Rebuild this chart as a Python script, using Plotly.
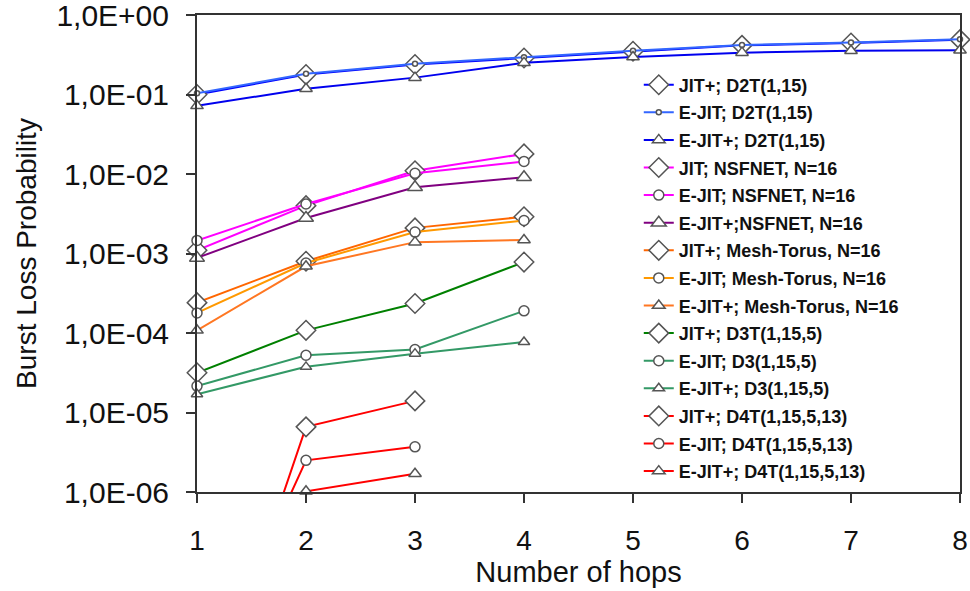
import plotly.graph_objects as go

# ---------------- data ----------------
hops = [1, 2, 3, 4, 5, 6, 7, 8]
hops4 = [1, 2, 3, 4]
hops3 = [1, 2, 3]

jitp_d2t = [0.100, 0.178, 0.238, 0.288, 0.350, 0.415, 0.445, 0.490]
ejit_d2t = [0.104, 0.182, 0.244, 0.295, 0.355, 0.420, 0.450, 0.495]
ejitp_d2t = [0.072, 0.118, 0.163, 0.250, 0.297, 0.336, 0.355, 0.360]

jit_ns = [0.0011, 0.0040, 0.0110, 0.0179]
ejit_ns = [0.00146, 0.0042, 0.0102, 0.0144]
ejitp_ns = [0.00088, 0.0028, 0.0068, 0.0091]

jitp_mt = [0.000241, 0.00080, 0.0021, 0.0029]
ejit_mt = [0.000179, 0.00076, 0.00186, 0.0026]
ejitp_mt = [0.000108, 0.00069, 0.00139, 0.00148]

jitp_d3 = [3.16e-5, 1.08e-4, 2.35e-4, 7.8e-4]
ejit_d3 = [2.15e-5, 5.25e-5, 6.2e-5, 1.9e-4]
ejitp_d3 = [1.7e-5, 3.75e-5, 5.5e-5, 7.7e-5]

jitp_d4 = [6e-10, 6.6e-6, 1.4e-5]
ejit_d4 = [2.5e-9, 2.5e-6, 3.7e-6]
ejitp_d4 = [2e-10, 1.02e-6, 1.7e-6]

y_tickvals = [1, 0.1, 0.01, 0.001, 0.0001, 0.00001, 0.000001]
y_ticktext = ["1,0E+00", "1,0E-01", "1,0E-02", "1,0E-03", "1,0E-04", "1,0E-05", "1,0E-06"]

series = [
    ("JIT+; D2T(1,15)", hops, jitp_d2t, "#0000FF", "diamond", 15),
    ("E-JIT; D2T(1,15)", hops, ejit_d2t, "#3366FF", "circle", 5),
    ("E-JIT+; D2T(1,15)", hops, ejitp_d2t, "#0000EE", "triangle-up", 11),
    ("JIT; NSFNET, N=16", hops4, jit_ns, "#FF00FF", "diamond", 15),
    ("E-JIT; NSFNET, N=16", hops4, ejit_ns, "#FF00FF", "circle", 10),
    ("E-JIT+;NSFNET, N=16", hops4, ejitp_ns, "#800080", "triangle-up", 13),
    ("JIT+; Mesh-Torus, N=16", hops4, jitp_mt, "#FF6600", "diamond", 15),
    ("E-JIT; Mesh-Torus, N=16", hops4, ejit_mt, "#FF9900", "circle", 10),
    ("E-JIT+; Mesh-Torus, N=16", hops4, ejitp_mt, "#FF7722", "triangle-up", 11),
    ("JIT+; D3T(1,15,5)", hops4, jitp_d3, "#008000", "diamond", 15),
    ("E-JIT; D3(1,15,5)", hops4, ejit_d3, "#339966", "circle", 10),
    ("E-JIT+; D3(1,15,5)", hops4, ejitp_d3, "#339966", "triangle-up", 10),
    ("JIT+; D4T(1,15,5,13)", hops3, jitp_d4, "#FF0000", "diamond", 15),
    ("E-JIT; D4T(1,15,5,13)", hops3, ejit_d4, "#FF0000", "circle", 10),
    ("E-JIT+; D4T(1,15,5,13)", hops3, ejitp_d4, "#FF0000", "triangle-up", 11),
]

fig = go.Figure()
for i, (name, xs, ys, col, sym, sz) in enumerate(series):
    fig.add_trace(go.Scatter(
        x=xs, y=ys, name=name, mode="lines+markers",
        line=dict(color=col, width=2),
        marker=dict(symbol=sym, size=sz, color="white",
                    line=dict(color="#555555", width=1.5)),
        legendgroup="g%d" % i,
        cliponaxis=False,
    ))

axis_common = dict(
    showline=True, linecolor="#333333", linewidth=2, mirror=True,
    ticks="outside", ticklen=9, tickwidth=2, tickcolor="#333333",
    showgrid=False, zeroline=False, automargin=False,
    ticklabeloverflow="allow",
)

fig.update_xaxes(
    range=[1, 8], dtick=1, tick0=1,
    tickfont=dict(size=28, color="#111111"),
    ticklabelstandoff=13,
    title=dict(text="Number of hops", font=dict(size=29, color="#111111"), standoff=1),
    **axis_common,
)
fig.update_yaxes(
    type="log", range=[-6, 0],
    tickvals=y_tickvals, ticktext=y_ticktext,
    tickfont=dict(size=30, color="#111111"),
    ticklabelstandoff=11,
    title=dict(text="Burst Loss Probability", font=dict(size=28, color="#111111"), standoff=12),
    **axis_common,
)

fig.update_layout(
    width=970, height=591,
    margin=dict(l=197, r=10, t=15, b=99),
    paper_bgcolor="white", plot_bgcolor="white",
    font=dict(family="Liberation Sans, Arial, sans-serif", color="#111111"),
    legend=dict(
        x=0.579, y=0.892, xanchor="left", yanchor="top",
        bgcolor="rgba(255,255,255,0)",
        font=dict(size=18, family="Liberation Sans, Arial, sans-serif", color="#111111", weight="bold"),
        tracegroupgap=1.2, itemsizing="trace",
    ),
    showlegend=True,
)

fig.write_html("out.html", config={"displayModeBar": False},
               post_script="document.body.style.margin='0';")
